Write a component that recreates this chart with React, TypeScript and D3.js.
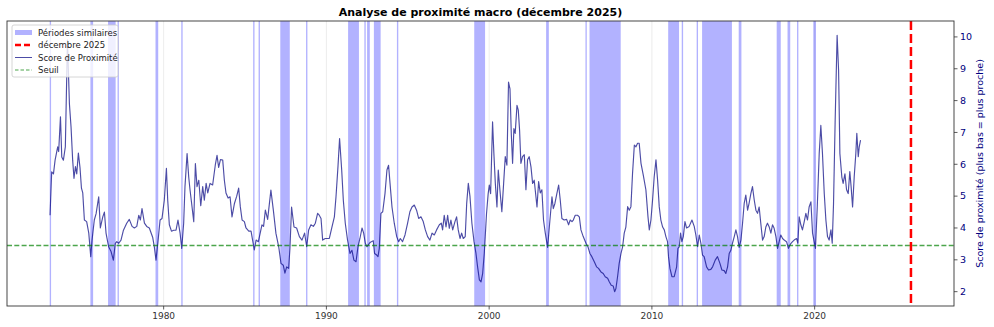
import React from "react";
import * as d3 from "d3";

const title = "Analyse de proximité macro (décembre 2025)";
const yLabel = "Score de proximité (plus bas = plus proche)";
const legendLabels = ["Périodes similaires", "décembre 2025", "Score de Proximité", "Seuil"];
const xTicks = [1980, 1990, 2000, 2010, 2020];
const yTicks = [2, 3, 4, 5, 6, 7, 8, 9, 10];
const threshold = 3.45;
const markerYear = 2025.917;

const dates = [
  1973.02, 1973.12, 1973.23, 1973.33, 1973.49, 1973.55, 1973.66, 1973.74, 1973.84, 1973.96,
  1974.09, 1974.21, 1974.31, 1974.41, 1974.49, 1974.58, 1974.66, 1974.76, 1974.86, 1974.95,
  1975.03, 1975.13, 1975.27, 1975.40, 1975.52, 1975.60, 1975.74, 1975.85, 1976.01, 1976.11,
  1976.26, 1976.36, 1976.46, 1976.62, 1976.77, 1976.91, 1977.03, 1977.12, 1977.24, 1977.38,
  1977.53, 1977.73, 1977.89, 1978.06, 1978.20, 1978.35, 1978.47, 1978.57, 1978.67, 1978.82,
  1978.96, 1979.12, 1979.33, 1979.43, 1979.53, 1979.66, 1979.78, 1979.90, 1980.04, 1980.17,
  1980.25, 1980.35, 1980.48, 1980.62, 1980.76, 1980.88, 1981.01, 1981.11, 1981.23, 1981.31,
  1981.44, 1981.54, 1981.62, 1981.72, 1981.85, 1981.95, 1982.05, 1982.16, 1982.28, 1982.40,
  1982.50, 1982.61, 1982.71, 1982.85, 1983.01, 1983.18, 1983.28, 1983.38, 1983.49, 1983.63,
  1983.73, 1983.83, 1983.96, 1984.08, 1984.20, 1984.35, 1984.49, 1984.61, 1984.71, 1984.82,
  1984.96, 1985.06, 1985.23, 1985.37, 1985.57, 1985.68, 1985.82,
  1986.04, 1986.14, 1986.25, 1986.39, 1986.59, 1986.74, 1986.90, 1987.07, 1987.21, 1987.35,
  1987.45, 1987.56, 1987.68, 1987.76, 1987.86, 1988.01, 1988.17, 1988.34, 1988.50, 1988.66,
  1988.79, 1988.91, 1989.05, 1989.20, 1989.32, 1989.46, 1989.56, 1989.67, 1989.77, 1989.93,
  1990.18, 1990.34, 1990.49, 1990.59, 1990.71, 1990.81, 1990.94, 1991.04, 1991.16, 1991.30,
  1991.45, 1991.57, 1991.69, 1991.82, 1991.94, 1992.06, 1992.19, 1992.29, 1992.39, 1992.49,
  1992.64, 1992.76, 1992.88, 1992.96, 1993.09, 1993.17, 1993.25, 1993.35, 1993.46, 1993.60,
  1993.72, 1993.82, 1993.91, 1994.03, 1994.17, 1994.32, 1994.44, 1994.54, 1994.68, 1994.83,
  1994.99, 1995.13, 1995.26, 1995.40, 1995.54, 1995.67, 1995.81, 1995.95, 1996.08, 1996.22,
  1996.36, 1996.49, 1996.63, 1996.77, 1996.94, 1997.06, 1997.14, 1997.24, 1997.35, 1997.45,
  1997.55, 1997.65, 1997.76, 1997.90, 1998.00, 1998.10, 1998.21, 1998.31, 1998.41, 1998.53,
  1998.62, 1998.72, 1998.82, 1998.94, 1999.07, 1999.19, 1999.29, 1999.40, 1999.50, 1999.60,
  1999.70, 1999.84, 1999.94, 2000.01, 2000.09, 2000.21, 2000.29, 2000.38, 2000.48, 2000.56,
  2000.66, 2000.78, 2000.89, 2000.99, 2001.09, 2001.19, 2001.28, 2001.36, 2001.44, 2001.52,
  2001.60, 2001.71, 2001.79, 2001.87, 2001.95, 2002.05, 2002.16, 2002.26, 2002.36, 2002.46,
  2002.57, 2002.67, 2002.77, 2002.83, 2002.94, 2003.04, 2003.14, 2003.24, 2003.34, 2003.45,
  2003.59, 2003.71, 2003.86, 2003.94, 2004.04, 2004.16, 2004.27, 2004.37, 2004.47, 2004.61,
  2004.76, 2004.88, 2004.98, 2005.09, 2005.17, 2005.29, 2005.43, 2005.54, 2005.64, 2005.78,
  2005.95, 2006.07, 2006.19, 2006.31, 2006.46, 2006.60, 2006.72, 2006.87, 2007.01, 2007.13,
  2007.28, 2007.38, 2007.50, 2007.62, 2007.71, 2007.79, 2007.89, 2007.99, 2008.10, 2008.20,
  2008.30, 2008.40, 2008.51, 2008.61, 2008.71, 2008.81, 2008.92, 2009.02, 2009.12, 2009.22,
  2009.33, 2009.47, 2009.63, 2009.76, 2009.84, 2009.94, 2010.04, 2010.14, 2010.25, 2010.35,
  2010.45, 2010.55, 2010.66, 2010.76, 2010.86, 2010.96, 2011.02, 2011.11, 2011.23, 2011.37,
  2011.52, 2011.60, 2011.68, 2011.76, 2011.84, 2011.93, 2012.03, 2012.13, 2012.29, 2012.46,
  2012.60, 2012.70, 2012.81, 2012.91,
  2013.01, 2013.11, 2013.21, 2013.36, 2013.48, 2013.62, 2013.73, 2013.89, 2014.03, 2014.18,
  2014.30, 2014.44, 2014.54, 2014.65, 2014.75, 2014.85, 2014.95, 2015.06, 2015.16, 2015.26,
  2015.36, 2015.47, 2015.57, 2015.67, 2015.77, 2015.88, 2015.98, 2016.08, 2016.18, 2016.29,
  2016.39, 2016.49, 2016.59, 2016.69, 2016.80, 2016.90, 2017.00, 2017.10, 2017.21, 2017.31,
  2017.41, 2017.51, 2017.62, 2017.72, 2017.82, 2017.92, 2018.03, 2018.13, 2018.27, 2018.39,
  2018.52, 2018.64, 2018.74, 2018.89, 2018.97, 2019.05, 2019.15, 2019.25, 2019.36, 2019.46,
  2019.56, 2019.66, 2019.77, 2019.87, 2019.97, 2020.05, 2020.16, 2020.28, 2020.38, 2020.48,
  2020.59, 2020.69, 2020.79, 2020.89, 2021.00, 2021.08, 2021.16, 2021.26, 2021.38, 2021.47,
  2021.55, 2021.67, 2021.75, 2021.86, 2021.96, 2022.06, 2022.16, 2022.24, 2022.33, 2022.43,
  2022.53, 2022.59, 2022.68, 2022.74, 2022.82,
];

const scores = [
  4.40, 5.76, 5.70, 6.13, 6.55, 6.40, 7.49, 6.23, 6.13, 6.55,
  9.90, 7.90, 7.17, 6.13, 5.56, 5.93, 5.70, 6.35, 5.90, 5.25,
  5.10, 4.25, 4.20, 3.84, 3.10, 3.62, 4.25, 4.45, 4.98, 4.00,
  4.35, 4.50, 3.84, 3.41, 3.26, 2.99, 3.52, 3.57, 3.52, 3.62,
  3.93, 4.15, 4.27, 4.05, 4.00, 4.05, 4.40, 4.25, 4.61, 4.15,
  4.05, 4.00, 3.70, 3.40, 2.99, 3.62, 4.25, 4.30, 4.87, 5.87,
  4.87, 4.10, 3.90, 3.93, 3.93, 4.25, 3.84, 3.36, 4.15, 5.29,
  6.34, 5.60, 5.20, 4.77, 4.20, 6.02, 5.30, 5.50, 4.70, 5.30,
  4.87, 5.40, 5.10, 5.40, 5.35, 6.00, 6.28, 5.90, 6.15, 6.13,
  5.50, 5.10, 4.94, 4.98, 4.35, 4.77, 5.00, 5.25, 4.67, 4.25,
  4.20, 4.00, 3.90, 3.90, 3.31, 3.62, 3.57,
  4.10, 4.05, 4.56, 4.27, 5.19, 4.56, 3.83, 3.41, 2.89, 2.83,
  2.58, 2.78, 2.73, 3.36, 4.66, 4.03, 4.00, 3.73, 3.62, 3.84,
  3.41, 3.94, 4.10, 4.05, 4.15, 4.46, 4.40, 4.30, 3.62, 3.67,
  3.67, 4.03, 4.35, 4.98, 5.92, 6.81, 5.82, 4.87, 4.15, 3.62,
  3.20, 3.30, 2.99, 2.94, 3.41, 3.67, 4.00, 3.84, 3.52, 3.41,
  3.52, 3.57, 3.60, 3.20, 3.15, 3.10, 3.36, 4.46, 4.51, 5.08,
  5.82, 5.97, 5.40, 4.66, 4.15, 3.73, 3.57, 3.67, 3.57, 3.78,
  4.15, 4.51, 4.66, 4.72, 4.56, 4.30, 4.35, 4.20, 3.94, 3.73,
  3.62, 3.84, 3.78, 3.94, 4.10, 4.15, 3.94, 4.40, 4.03, 4.40,
  3.99, 4.25, 3.94, 4.20, 4.35, 3.94, 3.67, 3.84, 3.67, 3.73,
  4.77, 5.40, 5.00, 4.15, 3.57, 3.20, 2.78, 2.37, 2.31, 2.57,
  3.20, 4.46, 5.08, 5.35, 5.08, 7.33, 6.35, 5.40, 4.66, 5.82,
  5.20, 4.51, 5.40, 6.24, 5.97, 8.58, 8.37, 6.97, 6.03, 7.12,
  6.97, 7.85, 7.70, 7.07, 6.03, 6.24, 6.30, 5.20, 6.14, 6.24,
  5.92, 5.40, 5.50, 5.20, 4.66, 5.46, 5.10, 5.20, 4.25, 3.84,
  3.39, 4.10, 4.98, 4.61, 4.77, 5.08, 5.35, 4.87, 4.30, 4.25,
  4.27, 4.10, 4.25, 4.20, 4.25, 4.40, 4.40, 4.35, 3.94, 3.73,
  3.52, 3.41, 3.20, 3.10, 2.94, 2.78, 2.73, 2.62, 2.57, 2.47,
  2.42, 2.31, 2.20, 2.18, 2.00, 2.10, 2.47, 2.89, 3.20, 3.41,
  3.84, 4.03, 4.67, 4.56, 4.67, 5.71, 6.60, 6.55, 6.66, 6.66,
  6.03, 5.66, 5.20, 4.35, 3.94, 4.25, 4.87, 5.60, 6.14, 5.50,
  4.67, 4.25, 4.03, 3.94, 3.73, 3.57, 3.10, 2.73, 2.47, 2.47,
  2.78, 3.36, 3.41, 3.84, 3.57, 3.73, 4.20, 4.00, 4.05, 4.25,
  4.05, 3.78, 3.41, 3.78,
  3.52, 3.15, 3.10, 2.78, 2.68, 2.70, 2.78, 2.99, 3.10, 2.89,
  2.68, 2.66, 2.57, 2.78, 3.20, 3.30, 3.52, 3.73, 3.94, 3.73,
  3.39, 3.62, 4.15, 4.77, 5.03, 4.56, 4.80, 5.08, 5.30, 4.87,
  4.56, 4.46, 4.66, 4.15, 3.62, 3.73, 4.03, 4.15, 4.03, 3.84,
  4.10, 3.99, 3.73, 3.36, 3.57, 3.78, 3.67, 3.62, 3.57, 3.36,
  3.50, 3.57, 3.62, 3.67, 3.52, 4.35, 4.10, 3.94, 4.20, 4.46,
  4.25, 4.66, 4.82, 3.84, 3.57, 3.36, 4.66, 6.34, 7.22, 6.34,
  5.08, 4.25, 3.73, 3.62, 3.94, 3.52, 4.77, 7.38, 10.05, 8.96,
  6.34, 5.60, 5.40, 5.70, 5.20, 5.08, 5.77, 5.30, 4.66, 5.60,
  6.34, 6.97, 6.24, 6.55, 6.76,
];

// similar periods: start / end (decimal years)
const spanStarts = [
  1973.0, 1975.5, 1976.583, 1977.167, 1979.5, 1981.083, 1985.5, 1985.833, 1987.167, 1988.75,
  1991.333, 1992.333, 1992.5, 1992.917, 1994.333, 1999.083, 2003.5, 2005.917, 2006.167, 2011.0,
  2011.833, 2012.75, 2013.083, 2015.333, 2017.667, 2018.333, 2018.917, 2019.917,
];
const spanEnds = [
  1973.083, 1975.667, 1977.05, 1977.25, 1979.667, 1981.167, 1985.583, 1985.917, 1987.75, 1988.833,
  1992.0, 1992.417, 1992.667, 1993.333, 1994.417, 1999.75, 2003.667, 2006.0, 2008.083, 2011.667,
  2011.917, 2012.833, 2014.917, 2015.5, 2017.917, 2018.5, 2019.0, 2020.083,
];

const W = 994;
const H = 327;
const M = { left: 7, right: 954, top: 21, bottom: 306 };
const FONT = "DejaVu Sans, sans-serif";

export default function App() {
  const x0 = dates[0];
  const pad = (markerYear - x0) * 0.05;
  const x = d3.scaleLinear().domain([x0 - pad, markerYear + pad]).range([M.left, M.right]);
  const y = d3.scaleLinear().domain([1.55, 10.5]).range([M.bottom, M.top]);

  const pts = dates.map((d, i) => [d, scores[i]] as [number, number]);
  const line = d3
    .line<[number, number]>()
    .x((d) => x(d[0]))
    .y((d) => y(d[1]))(pts) as string;

  const spanFill = "rgba(0,0,255,0.3)";
  const lineColor = "rgba(0,0,128,0.7)";
  const greenColor = "rgba(0,128,0,0.7)";

  const legendX = 12;
  const legendY = 25;
  const rowY = [32.5, 45, 57.5, 70];

  return (
    <svg width={W} height={H} style={{ display: "block", position: "absolute", left: 0, top: 0 }} fontFamily={FONT}>
      <rect x={0} y={0} width={W} height={H} fill="white" />
      <text x={(M.left + M.right) / 2} y={16} textAnchor="middle" fontSize={11} fontWeight="bold" fill="#000">
        {title}
      </text>
      {/* grid */}
      {xTicks.map((t) => (
        <line key={"g" + t} x1={x(t)} x2={x(t)} y1={M.top} y2={M.bottom} stroke="#b0b0b0" strokeOpacity={0.3} strokeWidth={0.8} />
      ))}
      {/* spans */}
      {spanStarts.map((s, i) => (
        <rect key={"s" + i} x={x(s)} y={M.top} width={x(spanEnds[i]) - x(s)} height={M.bottom - M.top} fill={spanFill} />
      ))}
      {/* line */}
      <path d={line} fill="none" stroke={lineColor} strokeWidth={1.15} strokeLinejoin="round" />
      {/* threshold */}
      <line x1={M.left} x2={M.right} y1={y(threshold)} y2={y(threshold)} stroke={greenColor} strokeWidth={1.3} strokeDasharray="5,2.3" />
      {/* marker */}
      <line x1={x(markerYear)} x2={x(markerYear)} y1={M.top} y2={M.bottom} stroke="red" strokeWidth={2.5} strokeDasharray="9,4" />
      {/* frame */}
      <rect x={M.left} y={M.top} width={M.right - M.left} height={M.bottom - M.top} fill="none" stroke="#333" strokeWidth={0.9} />
      {/* x axis */}
      {xTicks.map((t) => (
        <g key={"x" + t}>
          <line x1={x(t)} x2={x(t)} y1={M.bottom} y2={M.bottom + 3.5} stroke="#333" strokeWidth={0.8} />
          <text x={x(t)} y={M.bottom + 13} textAnchor="middle" fontSize={9} fill="#333">
            {t}
          </text>
        </g>
      ))}
      {/* right y axis */}
      {yTicks.map((t) => (
        <g key={"y" + t}>
          <line x1={M.right} x2={M.right + 3.5} y1={y(t)} y2={y(t)} stroke="#333" strokeWidth={0.8} />
          <text x={M.right + 6} y={y(t) + 3.3} fontSize={9.5} fill="navy">
            {t}
          </text>
        </g>
      ))}
      <text
        transform={`translate(${983},${(M.top + M.bottom) / 2}) rotate(-90)`}
        textAnchor="middle"
        fontSize={9.5}
        fill="navy"
      >
        {yLabel}
      </text>
      {/* legend */}
      <rect x={legendX} y={legendY} width={106} height={52} rx={2} fill="white" fillOpacity={0.8} stroke="#ccc" strokeWidth={0.8} />
      <rect x={15} y={rowY[0] - 2.5} width={17} height={5} fill={spanFill} />
      <line x1={15} x2={32} y1={rowY[1]} y2={rowY[1]} stroke="red" strokeWidth={2.5} strokeDasharray="6,3" />
      <line x1={15} x2={32} y1={rowY[2]} y2={rowY[2]} stroke={lineColor} strokeWidth={1} />
      <line x1={15} x2={32} y1={rowY[3]} y2={rowY[3]} stroke={greenColor} strokeWidth={1.2} strokeDasharray="3.5,2" />
      {legendLabels.map((l, i) => (
        <text key={"l" + i} x={38} y={rowY[i] + 3} fontSize={8.5} fill="#222">
          {l}
        </text>
      ))}
    </svg>
  );
}
